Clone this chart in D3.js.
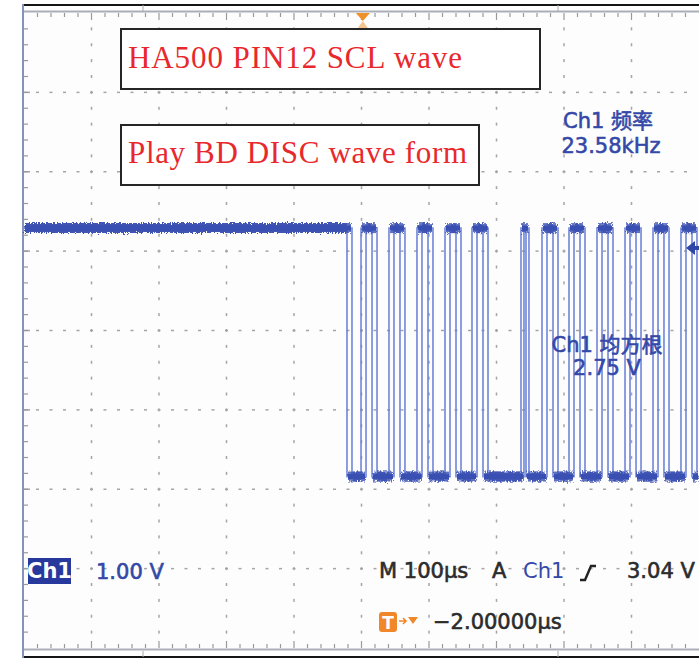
<!DOCTYPE html>
<html><head><meta charset="utf-8">
<script src="https://cdn.jsdelivr.net/npm/d3@7"></script>
<style>html,body{margin:0;padding:0;background:#fff;} svg{display:block;}</style>
</head><body>
<script>
// ---------------- data ----------------
const timeDomain = [-500, 500];      // µs, 100 µs/div, 10 div
const voltDomain = [-2, 6];          // V, 1.00 V/div, 8 div
const levelHigh = 3.29;              // V
const levelLow = 0.16;               // V
const triggerLevel = 3.04;           // V
const triggerTime = 2;               // µs (marker)
// edge times (µs) of the two overlapping acquisitions, starting high
const edgesA = [-21.5, -0.7, 15.6, 40.7, 57.0, 82.2, 98.5, 123.7, 140.0, 163.7, 180.0,
                236.3, 243.7, 267.4, 283.7, 307.4, 323.7, 348.9, 365.2, 390.4, 406.7,
                431.9, 448.1, 473.3, 489.6];
const edgesB = [-14.1, 6.7, 23.0, 48.1, 64.4, 89.6, 105.9, 131.1, 147.4, 171.1, 187.4,
                240.7, 248.1, 274.8, 291.1, 314.8, 331.1, 356.3, 372.6, 397.8, 414.1,
                439.3, 455.6, 480.7, 497.0];
const titleLines = ["HA500 PIN12 SCL wave", "Play BD DISC wave form"];
const freqLabel = ["Ch1 频率", "23.58kHz"];
const rmsLabel = ["Ch1 均方根", "2.75 V"];
const chLabel = "Ch1";
const voltsPerDiv = "1.00 V";
const timeBase = "M 100µs";
const trigMode = "A";
const trigSource = "Ch1";
const trigLevelLabel = "3.04 V";
const trigPosLabel = "−2.00000µs";

// ---------------- layout ----------------
const W = 699, H = 668;
const gx0 = 24, gx1 = 699, gy0 = 13, gy1 = 648;
const x = d3.scaleLinear().domain(timeDomain).range([gx0, gx1]);
const y = d3.scaleLinear().domain(voltDomain).range([gy1, gy0]);

const svg = d3.select("body").append("svg").attr("width", W).attr("height", H)
  .style("background", "#fff");

const defs = svg.append("defs");
const f = defs.append("filter").attr("id", "rough").attr("filterUnits", "userSpaceOnUse")
  .attr("x", 0).attr("y", 0).attr("width", W).attr("height", H);
f.append("feTurbulence").attr("type", "fractalNoise").attr("baseFrequency", "0.8 0.5")
  .attr("numOctaves", 2).attr("seed", 4).attr("result", "n");
f.append("feDisplacementMap").attr("in", "SourceGraphic").attr("in2", "n")
  .attr("scale", 6).attr("xChannelSelector", "R").attr("yChannelSelector", "G");

// ---------------- frame ----------------
svg.append("rect").attr("x", gx0).attr("y", gy0).attr("width", gx1 - gx0).attr("height", gy1 - gy0)
  .attr("fill", "#fdfdfd");
svg.append("line").attr("x1", 23).attr("x2", W).attr("y1", 5).attr("y2", 5)
  .attr("stroke", "#151515").attr("stroke-width", 2);
svg.append("line").attr("x1", 23).attr("x2", W).attr("y1", 657).attr("y2", 657)
  .attr("stroke", "#151515").attr("stroke-width", 2);
[143, 558].forEach(px => {
  svg.append("line").attr("x1", px).attr("x2", px).attr("y1", 5).attr("y2", 11)
    .attr("stroke", "#aaa").attr("stroke-width", 1);
  svg.append("line").attr("x1", px).attr("x2", px).attr("y1", 651).attr("y2", 657)
    .attr("stroke", "#aaa").attr("stroke-width", 1);
});
svg.append("line").attr("x1", 23).attr("x2", W).attr("y1", gy0 - 1.5).attr("y2", gy0 - 1.5)
  .attr("stroke", "#a9aeb9").attr("stroke-width", 2);
svg.append("line").attr("x1", 23).attr("x2", W).attr("y1", gy1 + 1.5).attr("y2", gy1 + 1.5)
  .attr("stroke", "#a9aeb9").attr("stroke-width", 2);
svg.append("line").attr("x1", 23).attr("x2", 23).attr("y1", 4).attr("y2", 658)
  .attr("stroke", "#8592bb").attr("stroke-width", 2);

// ---------------- grid ----------------
const grid = svg.append("g").attr("fill", "#a5a5a5");
const majorT = d3.range(timeDomain[0] + 100, timeDomain[1], 100);
const majorV = d3.range(voltDomain[0] + 1, voltDomain[1], 1);
const minorT = d3.range(timeDomain[0] + 20, timeDomain[1], 20);
const minorV = d3.range(voltDomain[0] + 0.2, voltDomain[1] - 0.01, 0.2);
majorV.forEach(v => {
  minorT.forEach(t => grid.append("rect").attr("x", x(t) - 1.5).attr("y", y(v) - 0.75)
    .attr("width", 3).attr("height", 1.5));
  grid.append("rect").attr("x", gx0).attr("y", y(v) - 0.75).attr("width", 6).attr("height", 1.5);
});
majorT.forEach(t => {
  minorV.forEach(v => grid.append("rect").attr("x", x(t) - 0.75).attr("y", y(v) - 1.5)
    .attr("width", 1.5).attr("height", 3));
});
const ticks = svg.append("g").attr("stroke", "#9a9a9a").attr("stroke-width", 1.2);
minorT.forEach(t => {
  const major = Math.abs(t % 100) < 1e-6;
  const len = major ? 7 : 4;
  ticks.append("line").attr("x1", x(t)).attr("x2", x(t)).attr("y1", gy0).attr("y2", gy0 + len);
  ticks.append("line").attr("x1", x(t)).attr("x2", x(t)).attr("y1", gy1).attr("y2", gy1 - len);
});
minorV.forEach(v => {
  ticks.append("line").attr("x1", gx0).attr("x2", gx0 + 4).attr("y1", y(v)).attr("y2", y(v));
});

// ---------------- text boxes ----------------
const boxes = [
  {x: 121, y: 29, w: 419, h: 60, tx: 128, ty: 68, tl: 334},
  {x: 121, y: 125, w: 358, h: 60, tx: 128, ty: 163, tl: 339}
];
boxes.forEach((b, i) => {
  svg.append("rect").attr("x", b.x).attr("y", b.y).attr("width", b.w).attr("height", b.h)
    .attr("fill", "#fff").attr("stroke", "#262626").attr("stroke-width", 2);
  svg.append("text").attr("x", b.tx).attr("y", b.ty).text(titleLines[i])
    .attr("font-family", "Liberation Serif, serif").attr("font-size", 31)
    .attr("fill", "#e8282c").attr("textLength", b.tl).attr("lengthAdjust", "spacing");
});

// ---------------- waveform ----------------
function segments(edges) {
  const segs = [];
  let t0 = timeDomain[0], high = true;
  edges.forEach(e => { segs.push({t0, t1: e, v: high ? levelHigh : levelLow}); t0 = e; high = !high; });
  segs.push({t0, t1: timeDomain[1], v: high ? levelHigh : levelLow});
  return segs;
}
const traces = [segments(edgesA), segments(edgesB)];
const line = d3.line().x(d => x(d[0])).y(d => y(d[1]));
const wave = svg.append("g");
traces.forEach(segs => {
  const pts = [];
  segs.forEach(s => { pts.push([s.t0, s.v]); pts.push([s.t1, s.v]); });
  wave.append("path").attr("d", line(pts)).attr("fill", "none")
    .attr("stroke", "#6a80d6").attr("stroke-opacity", 0.85).attr("stroke-width", 1.8);
});
const core = wave.append("g");
const lev = wave.append("g").attr("filter", "url(#rough)");
traces.forEach(segs => {
  segs.forEach(s => {
    core.append("line").attr("x1", x(s.t0) + 1).attr("x2", x(s.t1) - 1)
      .attr("y1", y(s.v)).attr("y2", y(s.v))
      .attr("stroke", "#3a4fb2").attr("stroke-width", 5);
    lev.append("line").attr("x1", x(s.t0) + 1).attr("x2", x(s.t1) - 1)
      .attr("y1", y(s.v)).attr("y2", y(s.v))
      .attr("stroke", "#3a4fb2").attr("stroke-width", 10).attr("stroke-opacity", 0.8);
  });
});

// ---------------- markers ----------------
const tx = x(triggerTime);
svg.append("path").attr("d", `M${tx - 7},${gy0} L${tx + 7},${gy0} L${tx},${gy0 + 8} Z`)
  .attr("fill", "#f0902a");
svg.append("path").attr("d", `M${tx - 5},${gy0 + 15} L${tx + 5},${gy0 + 15} L${tx},${gy0 + 8} Z`)
  .attr("fill", "#f6c48c");
const ty = y(triggerLevel);
svg.append("path").attr("d", `M${W - 13},${ty} L${W - 4},${ty - 7} L${W - 4},${ty + 7} Z`)
  .attr("fill", "#2f46a8");
svg.append("line").attr("x1", W - 6).attr("x2", W).attr("y1", ty).attr("y2", ty)
  .attr("stroke", "#2f46a8").attr("stroke-width", 4);

// ---------------- readouts ----------------
const sans = "DejaVu Sans, Noto Sans CJK SC, sans-serif";
const blue = "#3448a8", dark = "#2c2c2c";
function txt(s, px, py, fill, anchor) {
  return svg.append("text").attr("x", px).attr("y", py).text(s)
    .attr("font-family", sans).attr("font-size", 21).attr("fill", fill)
    .attr("stroke", fill).attr("stroke-width", 0.6)
    .attr("text-anchor", anchor || "start");
}
txt(freqLabel[0], 608, 128, blue, "middle");
txt(freqLabel[1], 611, 153, blue, "middle");
txt(rmsLabel[0], 607, 352, blue, "middle");
txt(rmsLabel[1], 607, 375, blue, "middle");

svg.append("rect").attr("x", 28).attr("y", 558).attr("width", 43).attr("height", 26)
  .attr("fill", "#27399c");
txt(chLabel, 49.5, 578, "#fff", "middle").attr("font-weight", "bold").attr("stroke-width", 0);
txt(voltsPerDiv, 96, 579, blue);
txt(timeBase, 379, 578, dark);
txt(trigMode, 492, 578, dark);
txt(trigSource, 523, 578, blue).attr("stroke-width", 0);
svg.append("path").attr("d", "M580,580 L585,580 L591,566 L596,566").attr("fill", "none")
  .attr("stroke", "#222").attr("stroke-width", 2.4);
txt(trigLevelLabel, 627, 578, dark);

svg.append("rect").attr("x", 379).attr("y", 612).attr("width", 18).attr("height", 20)
  .attr("rx", 3).attr("fill", "#f0882a");
svg.append("text").attr("x", 388).attr("y", 629).text("T").attr("text-anchor", "middle")
  .attr("font-family", sans).attr("font-size", 17).attr("font-weight", "bold").attr("fill", "#fff");
svg.append("path").attr("d", "M399,621 L406,621 M403,618 L406,621 L403,624").attr("fill", "none")
  .attr("stroke", "#f0882a").attr("stroke-width", 1.6);
svg.append("path").attr("d", "M408,617 L418,617 L413,624 Z").attr("fill", "#f0882a");
txt(trigPosLabel, 433, 629, dark);
</script>
</body></html>
